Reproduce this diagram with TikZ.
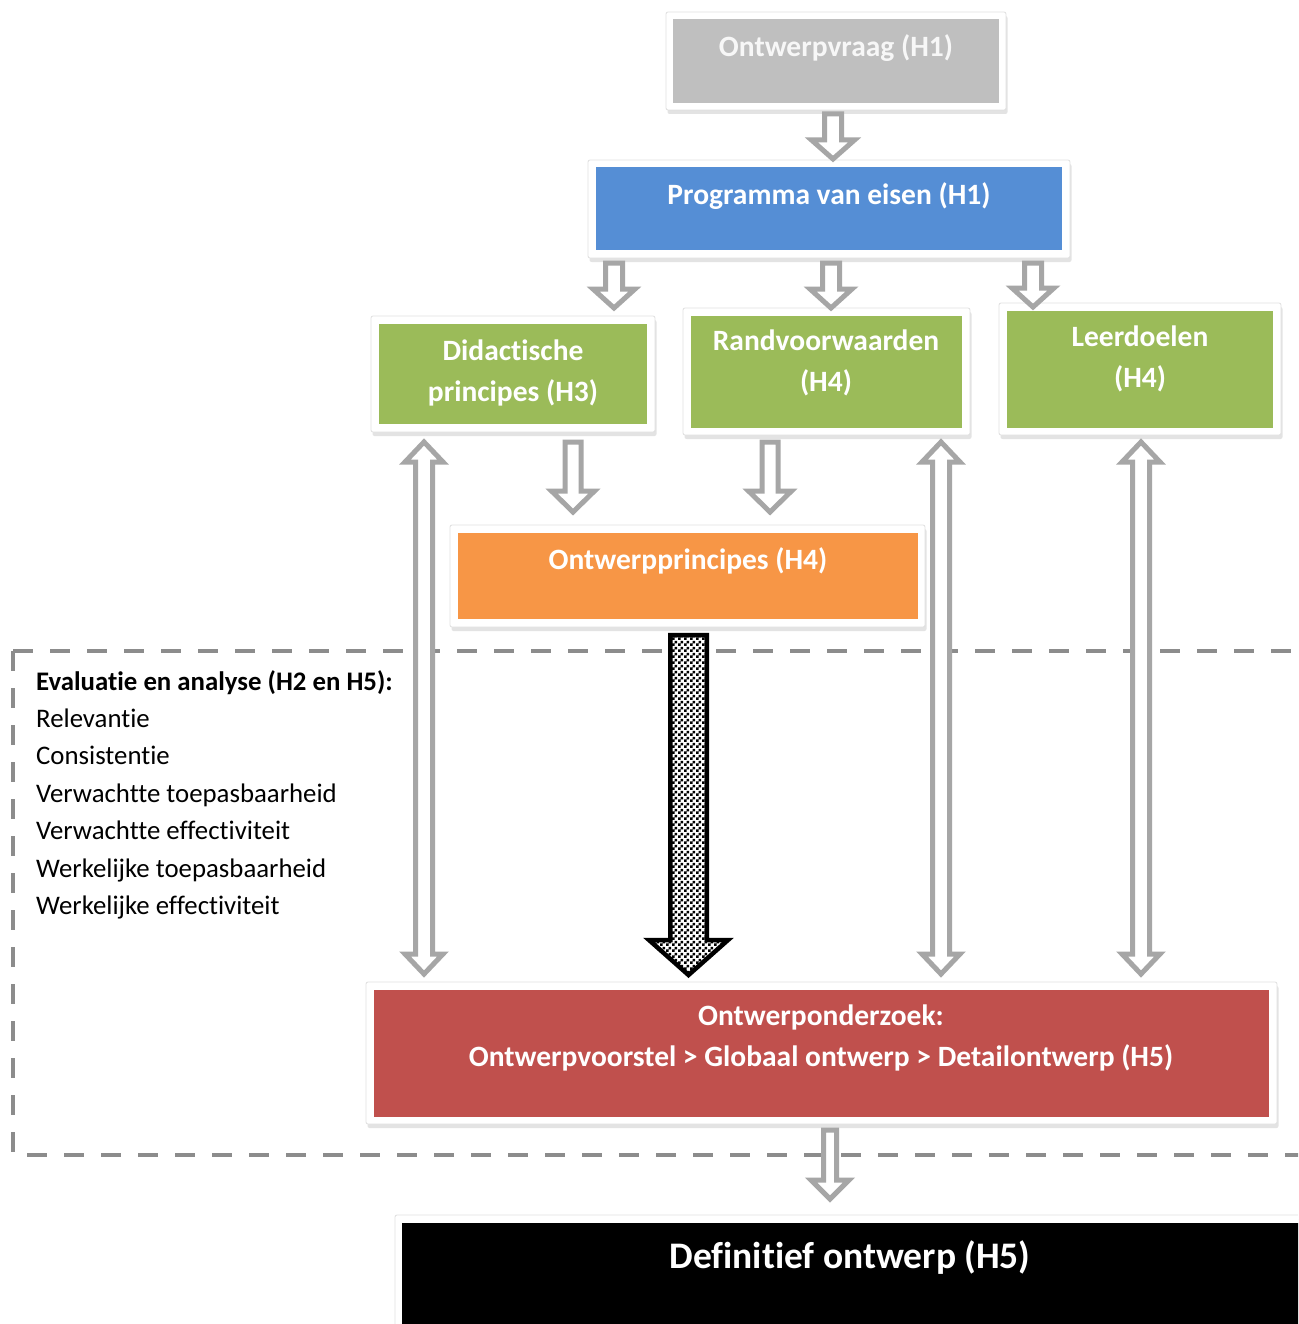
\documentclass[tikz,border=0pt]{standalone}
\usepackage{fontspec}
\setmainfont{Carlito}[Ligatures={NoCommon}]
\usetikzlibrary{shadows,patterns}
\definecolor{boxgray}{HTML}{BFBFBF}
\definecolor{boxblue}{HTML}{558ED5}
\definecolor{boxgreen}{HTML}{9BBB59}
\definecolor{boxorange}{HTML}{F79646}
\definecolor{boxred}{HTML}{C0504D}
\definecolor{arrowgray}{HTML}{A6A6A6}
\definecolor{dashgray}{HTML}{8C8C8C}
\pgfdeclarepatternformonly{finecheck}{\pgfpointorigin}{\pgfqpoint{6pt}{6pt}}{\pgfqpoint{6pt}{6pt}}%
  {\pgfpathrectangle{\pgfpointorigin}{\pgfqpoint{3.05pt}{3.05pt}}%
   \pgfpathrectangle{\pgfqpoint{3pt}{3pt}}{\pgfqpoint{3.05pt}{3.05pt}}\pgfusepath{fill}}
\newcommand\hdown[6]{% x, ytop, ytip, shaft half, head half, head length
  \draw[harrow] (#1-#4,#2) -- (#1+#4,#2) -- (#1+#4,#3-#6) -- (#1+#5,#3-#6) -- (#1,#3)
    -- (#1-#5,#3-#6) -- (#1-#4,#3-#6) -- cycle;}
\newcommand\hboth[6]{% x, ytip1, ytip2, shaft half, head half, head length
  \draw[harrow] (#1,#2) -- (#1+#5,#2+#6) -- (#1+#4,#2+#6) -- (#1+#4,#3-#6) -- (#1+#5,#3-#6)
    -- (#1,#3) -- (#1-#5,#3-#6) -- (#1-#4,#3-#6) -- (#1-#4,#2+#6) -- (#1-#5,#2+#6) -- cycle;}
\begin{document}
\begin{tikzpicture}[x=1pt,y=-1pt,
  frame/.style={fill=white, draw=black!12, line width=0.8pt, inner sep=0pt, outer sep=0pt, rounded corners=2pt,
    drop shadow={opacity=0.22, shadow xshift=1.5pt, shadow yshift=-4pt}},
  innerbox/.style={inner sep=0pt, outer sep=0pt},
  boxtext/.style={text=white, font=\fontsize{29.5}{41}\selectfont\bfseries, align=center, inner sep=0pt},
  harrow/.style={draw=arrowgray, line width=5pt, fill=white, line join=miter},
  listtext/.style={anchor=west, inner sep=0pt, text height=19pt, text depth=6pt, font=\fontsize{26.8}{31}\selectfont}
]
\clip (0,0) rectangle (1298,1324);
\fill[white] (0,0) rectangle (1298,1324);

% dashed evaluation area
\draw[dashgray, line width=4.5pt, dash pattern=on 20pt off 17pt] (13,651) -- (1320,651);
\draw[dashgray, line width=4.5pt, dash pattern=on 20pt off 17pt] (13,651) -- (13,1155) -- (1320,1155);

% Ontwerpvraag
\node[frame, minimum width=340pt, minimum height=98pt] (vraagF) at (836,61) {};
\node[innerbox, fill=boxgray, minimum width=326pt, minimum height=84pt] (vraag) at (vraagF) {};
\node[boxtext, text=white!97!black] (vraagT) at (836,48) {Ontwerpvraag (H1)};

% Programma van eisen
\node[frame, minimum width=482pt, minimum height=98pt] (eisenF) at (829,209) {};
\node[innerbox, fill=boxblue, minimum width=466pt, minimum height=83pt] (eisen) at (eisenF) {};
\node[boxtext] (eisenT) at (829,196) {Programma van eisen (H1)};

% Didactische principes
\node[frame, minimum width=284pt, minimum height=116pt] (didF) at (513,374) {};
\node[innerbox, fill=boxgreen, minimum width=268pt, minimum height=100pt] (did) at (didF) {};
\node[boxtext] (didT) at (513,372.5) {Didactische\\principes (H3)};

% Randvoorwaarden
\node[frame, minimum width=287pt, minimum height=127pt] (randF) at (826.5,371.5) {};
\node[innerbox, fill=boxgreen, minimum width=271pt, minimum height=112pt] (rand) at (randF) {};
\node[boxtext] (randT) at (826,363) {Randvoorwaarden\\(H4)};

% Leerdoelen
\node[frame, minimum width=282pt, minimum height=132pt] (leerF) at (1140,369) {};
\node[innerbox, fill=boxgreen, minimum width=266pt, minimum height=117pt] (leer) at (leerF) {};
\node[boxtext] (leerT) at (1140,358.5) {Leerdoelen\\(H4)};

% Ontwerpprincipes
\node[frame, minimum width=475pt, minimum height=102pt] (ontpF) at (687.5,576) {};
\node[innerbox, fill=boxorange, minimum width=460pt, minimum height=86pt] (ontp) at (ontpF) {};
\node[boxtext] (ontpT) at (688,561) {Ontwerpprincipes (H4)};

% Ontwerponderzoek
\node[frame, minimum width=911pt, minimum height=142pt] (ondF) at (821.5,1053) {};
\node[innerbox, fill=boxred, minimum width=895pt, minimum height=127pt] (ond) at (ondF) {};
\node[boxtext] (ondT) at (821,1037.5) {Ontwerponderzoek:\\Ontwerpvoorstel > Globaal ontwerp > Detailontwerp (H5)};

% Definitief ontwerp
\node[frame, minimum width=930pt, minimum height=140pt, anchor=north west] (defF) at (395,1215) {};
\node[innerbox, fill=black, minimum width=920pt, minimum height=130pt, anchor=north west] (def) at (402,1223) {};
\node[boxtext, font=\fontsize{37.5}{44}\selectfont\bfseries] (defT) at (850,1258) {Definitief ontwerp (H5)};

% evaluation list
\node[listtext, font=\fontsize{26.8}{31}\selectfont\bfseries] (evT) at (36,684) {Evaluatie en analyse (H2 en H5):};
\node[listtext] (ev1) at (36,721) {Relevantie};
\node[listtext] (ev2) at (36,758) {Consistentie};
\node[listtext] (ev3) at (36,796) {Verwachtte toepasbaarheid};
\node[listtext] (ev4) at (36,833) {Verwachtte effectiviteit};
\node[listtext] (ev5) at (36,871) {Werkelijke toepasbaarheid};
\node[listtext] (ev6) at (36,908) {Werkelijke effectiviteit};

% hollow arrows
\hdown{833}{114}{159}{8.5}{21.5}{19}
\hdown{614}{263}{308}{8.5}{21}{19}
\hdown{831}{263}{308}{8.5}{21}{19}
\hdown{1033}{263}{307}{8.5}{21}{19}
\hdown{573}{442}{512}{8}{21.5}{21}
\hdown{770}{442}{512}{8}{21.5}{21}
\hdown{830}{1130}{1199}{6.5}{19}{19}
\hboth{424}{442}{974}{8.5}{19}{20}
\hboth{941}{442}{974}{8.5}{19}{20}
\hboth{1141}{442}{974}{8.5}{19}{20}

% main checkered arrow
\draw[line width=4.5pt, draw=black, line join=miter, preaction={fill=white}, pattern=finecheck]
  (688.5-18.25,635) -- (688.5+18.25,635) -- (688.5+18.25,940) -- (688.5+39.5,940) -- (688.5,975)
  -- (688.5-39.5,940) -- (688.5-18.25,940) -- cycle;
\end{tikzpicture}
\end{document}
